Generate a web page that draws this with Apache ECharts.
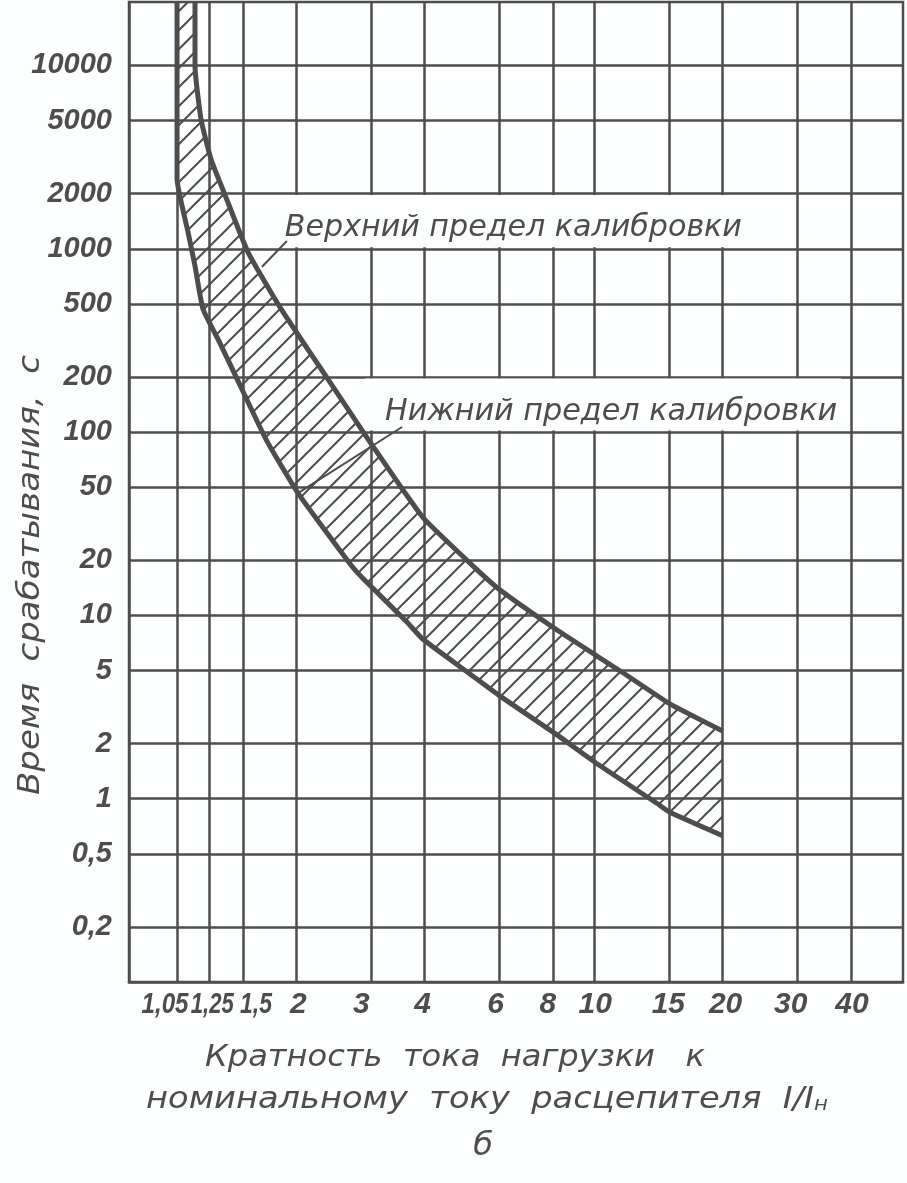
<!DOCTYPE html>
<html>
<head>
<meta charset="utf-8">
<style>
html,body{margin:0;padding:0;background:#fdfefe;}
#c{width:907px;height:1183px;}
</style>
<script src="https://cdn.jsdelivr.net/npm/echarts@6/dist/echarts.min.js"></script>
</head>
<body>
<div id="c"></div>
<script>
// ---------- data ----------
const xTicks = [1.05, 1.25, 1.5, 2, 3, 4, 6, 8, 10, 15, 20, 30, 40];
const xTickLabels = ['1,05', '1,25', '1,5', '2', '3', '4', '6', '8', '10', '15', '20', '30', '40'];
const yTicks = [0.2, 0.5, 1, 2, 5, 10, 20, 50, 100, 200, 500, 1000, 2000, 5000, 10000];
const yTickLabels = ['0,2', '0,5', '1', '2', '5', '10', '20', '50', '100', '200', '500', '1000', '2000', '5000', '10000'];

// lower calibration limit (left/lower curve): I/In and trip time, s
const lowerX = [1.05, 1.05, 1.067, 1.114, 1.157, 1.208, 1.324, 1.449, 1.704, 2.018, 2.698, 2.914, 3.63, 3.958, 5.11, 5.986, 8.13, 10.15, 14.0, 15.05, 20];
const lowerT = [22200, 2400, 1920, 1235, 806, 469, 306, 197, 89.8, 46.5, 18.6, 15.3, 9.24, 7.43, 4.79, 3.65, 2.25, 1.55, 0.947, 0.843, 0.628];
// upper calibration limit (right/upper curve)
const upperX = [1.157, 1.157, 1.195, 1.261, 1.36, 1.54, 1.83, 2.37, 2.98, 3.6, 3.99, 5.22, 5.98, 8.13, 10.15, 11.7, 15.05, 20];
const upperT = [22200, 9940, 5100, 3090, 1970, 960, 481, 195, 88, 46.5, 33.6, 18.4, 13.9, 8.4, 6.0, 4.85, 3.29, 2.34];

const labelUpper = 'Верхний предел калибровки';
const labelLower = 'Нижний предел калибровки';
const xTitle1 = 'Кратность  тока  нагрузки   к';
const xTitle2 = 'номинальному  току  расцепителя  I/I';
const xTitleSub = 'н';
const yTitle = 'Время  срабатывания,  с';
const figLetter = 'б';

// ---------- style ----------
const ink = '#4d4d4d';
const paper = '#fdfefe';
const xMin = 0.81, xMax = 53, yMin = 0.1, yMax = 22200;
const labelFont = '"Liberation Sans", Arial, sans-serif';
const textFont = '"DejaVu Sans", sans-serif';
const xLabelShift = [-12, 3, 13, 2, -10, -2, -4, -5, 1, -1, 3, -7, 1];
const xLabelWidth = [47, 43, 32, 0, 0, 0, 0, 0, 0, 0, 0, 0, 0];

function tickIndex(ticks, v) {
  for (let i = 0; i < ticks.length; i++) if (Math.abs(ticks[i] - v) < ticks[i] * 1e-6) return i;
  return -1;
}

function makeHatch() {
  const s = 19;
  const c = document.createElement('canvas');
  c.width = s; c.height = s;
  const g = c.getContext('2d');
  g.strokeStyle = ink; g.lineWidth = 2; g.lineCap = 'square';
  g.beginPath();
  g.moveTo(-1, s + 1); g.lineTo(s + 1, -1);
  g.moveTo(-2, 2); g.lineTo(2, -2);
  g.moveTo(s - 2, s + 2); g.lineTo(s + 2, s - 2);
  g.stroke();
  return c;
}
const hatch = { image: makeHatch(), repeat: 'repeat' };

const chart = echarts.init(document.getElementById('c'), null, { renderer: 'canvas' });

const option = {
  animation: false,
  backgroundColor: paper,
  grid: { left: 129, right: 4, top: 2, bottom: 201, show: true, borderColor: ink, borderWidth: 2.5, containLabel: false },
  xAxis: {
    type: 'log', logBase: 10, min: xMin, max: xMax,
    axisLine: { show: true, lineStyle: { color: ink, width: 2.5 } },
    axisTick: { show: false, customValues: xTicks },
    axisLabel: { show: false, customValues: xTicks },
    splitLine: { show: true, lineStyle: { color: ink, width: 2.5 } },
    minorTick: { show: false }, minorSplitLine: { show: false }
  },
  yAxis: {
    type: 'log', logBase: 10, min: yMin, max: yMax,
    axisLine: { show: true, lineStyle: { color: ink, width: 2.5 } },
    axisTick: { show: false, customValues: yTicks },
    axisLabel: {
      customValues: yTicks, margin: 17, hideOverlap: false,
      fontFamily: labelFont, fontSize: 29, fontStyle: 'italic', fontWeight: 'bold', color: ink,
      verticalAlign: 'middle', lineHeight: 29,
      formatter: v => { const i = tickIndex(yTicks, v); return i < 0 ? '' : yTickLabels[i]; }
    },
    splitLine: { show: true, lineStyle: { color: ink, width: 2.5 } },
    minorTick: { show: false }, minorSplitLine: { show: false }
  },
  series: [
    {
      type: 'custom', name: 'band', z: 2,
      data: [[upperX[0], upperT[0]]],
      encode: { x: 0, y: 1 },
      renderItem: function (params, api) {
        const pts = [];
        for (let i = 0; i < upperX.length; i++) pts.push(api.coord([upperX[i], upperT[i]]));
        for (let i = lowerX.length - 1; i >= 0; i--) pts.push(api.coord([lowerX[i], lowerT[i]]));
        return { type: 'polygon', shape: { points: pts }, style: { fill: hatch, stroke: null } };
      },
      silent: true
    },
    {
      type: 'line', name: 'Нижний предел калибровки', z: 4,
      data: lowerX.map((x, i) => [x, lowerT[i]]),
      symbol: 'none', smooth: 0.15,
      lineStyle: { color: ink, width: 5 }
    },
    {
      type: 'line', name: 'Верхний предел калибровки', z: 4,
      data: upperX.map((x, i) => [x, upperT[i]]),
      symbol: 'none', smooth: 0.15,
      lineStyle: { color: ink, width: 5 }
    }
  ]
};
chart.setOption(option);

// ---------- annotations anchored in data space ----------
const P = (x, t) => chart.convertToPixel({ gridIndex: 0 }, [x, t]);
const mc = document.createElement('canvas').getContext('2d');
function measure(text, size, family, style, weight) {
  mc.font = (style || 'normal') + ' ' + (weight || 'normal') + ' ' + size + 'px ' + family;
  return mc.measureText(text).width;
}
function fitScale(text, size, target) { return target / measure(text, size, textFont, 'italic'); }

const g = [];

// x tick labels, placed at the tick positions of the log axis
const axisY = P(xMin, yMin)[1];
xTicks.forEach((v, i) => {
  const px = P(v, yMin)[0] + xLabelShift[i];
  const fs = 30;
  const w = measure(xTickLabels[i], fs, labelFont, 'italic', 'bold');
  const sx = xLabelWidth[i] ? Math.min(1, xLabelWidth[i] / w) : 1;
  g.push({ type: 'text', z: 6, x: px, y: axisY + 23, scaleX: sx, silent: true,
    style: { text: xTickLabels[i], fontFamily: labelFont, fontStyle: 'italic', fontWeight: 'bold', fontSize: fs,
      fill: ink, align: 'center', verticalAlign: 'middle' } });
});

function box(x0, t0, x1, t1) {
  const a = P(x0, t0), b = P(x1, t1);
  g.push({ type: 'rect', z: 1, silent: true,
    shape: { x: a[0], y: a[1] + 1.5, width: b[0] - a[0], height: b[1] - a[1] - 3 },
    style: { fill: paper } });
}
box(1.56, 2000, 26, 1000);
box(2.9, 200, 38, 100);

function leader(x0, t0, x1, t1) {
  const a = P(x0, t0), b = P(x1, t1);
  g.push({ type: 'line', z: 5, silent: true, shape: { x1: a[0], y1: a[1], x2: b[0], y2: b[1] },
    style: { stroke: ink, lineWidth: 2 } });
}
leader(1.90, 1103, 1.66, 796);
leader(3.54, 106.6, 2.018, 46.5);

const fsA = 30;
const pu = P(1.88, 1000);
g.push({ type: 'text', z: 6, x: pu[0], y: pu[1] - 6, scaleX: fitScale(labelUpper, fsA, 457),
  style: { text: labelUpper, fontFamily: textFont, fontStyle: 'italic', fontSize: fsA, fill: ink, align: 'left', verticalAlign: 'bottom' } });
const pl = P(3.23, 100);
g.push({ type: 'text', z: 6, x: pl[0], y: pl[1] - 5, scaleX: fitScale(labelLower, fsA, 452),
  style: { text: labelLower, fontFamily: textFont, fontStyle: 'italic', fontSize: fsA, fill: ink, align: 'left', verticalAlign: 'bottom' } });

g.push({ type: 'text', z: 6, x: 31, y: 575, rotation: Math.PI / 2, scaleX: fitScale(yTitle, 30, 440),
  style: { text: yTitle, fontFamily: textFont, fontStyle: 'italic', fontSize: 30, fill: ink, align: 'center', verticalAlign: 'middle' } });
g.push({ type: 'text', z: 6, x: 455, y: 1058, scaleX: fitScale(xTitle1, 30, 500),
  style: { text: xTitle1, fontFamily: textFont, fontStyle: 'italic', fontSize: 30, fill: ink, align: 'center', verticalAlign: 'middle' } });
const s2 = fitScale(xTitle2 + xTitleSub, 30, 690);
g.push({ type: 'text', z: 6, x: 487, y: 1097, scaleX: s2,
  style: { text: '{a|' + xTitle2 + '}{s|' + xTitleSub + '}', fill: ink, align: 'center', verticalAlign: 'middle',
    rich: { a: { fontFamily: textFont, fontStyle: 'italic', fontSize: 30, fill: ink, lineHeight: 36, verticalAlign: 'bottom' },
            s: { fontFamily: textFont, fontStyle: 'italic', fontSize: 19, fill: ink, lineHeight: 36, verticalAlign: 'bottom' } } } });
g.push({ type: 'text', z: 6, x: 483, y: 1147,
  style: { text: figLetter, fontFamily: textFont, fontStyle: 'italic', fontSize: 32, fill: ink, align: 'center', verticalAlign: 'middle' } });

chart.setOption({ graphic: { elements: g } });
</script>
</body>
</html>
